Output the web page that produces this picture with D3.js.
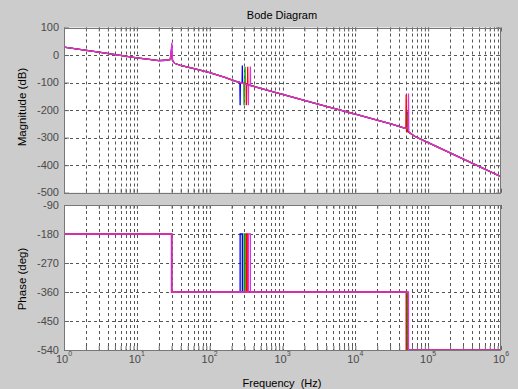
<!DOCTYPE html>
<html>
<head>
<meta charset="utf-8">
<script src="https://cdn.jsdelivr.net/npm/d3@7"></script>
<style>
  body { margin: 0; background: #cccccc; }
  svg { display: block; font-family: Arial, 'Liberation Sans', sans-serif; }
</style>
</head>
<body>
<div id="chart"></div>
<script>
// Shared parts of the magnitude curve (Hz, dB)
const magLow = [[1, 29], [3.16, 10], [10, -10], [15.8, -17], [20, -20], [25.1, -19], [28.8, -16]]
const magMid = [[30.9, -20], [33.1, -30], [39.8, -38], [63.1, -50], [100, -64], [158, -80], [224, -95]]
const magHigh = [[501, -121], [1000, -143], [3162, -179], [10000, -215], [31623, -251], [48500, -266]]
const magTop = [[56234, -283], [66069, -296], [100000, -318], [316228, -380], [1000000, -442]]

// Resonances of each run
const seriesNames = ['blue', 'green', 'red', 'magenta']
const seriesColors = ['#0000ff', '#00a000', '#ff0000', '#dd33dd']
const peak30 = [[29.9, 22], [30.1, 15], [30.1, 18], [30.3, 45]]
const notchPeak300 = [
  [[260, -100], [262, -182], [264, -100], [279, -102], [281, -38], [283, -102]],
  [[295, -104], [297, -182], [299, -104], [304, -105], [306, -43], [308, -105]],
  [[317, -106], [319, -182], [321, -106], [331, -108], [333, -43], [335, -108]],
  [[338, -109], [340, -182], [342, -109], [360, -111], [362, -42], [364, -111]]
]
const peak50k = [
  [[51000, -264], [51500, -205], [52000, -276]],
  [[51600, -264], [52100, -215], [52600, -276]],
  [[49400, -264], [49900, -143], [50400, -276]],
  [[53200, -264], [53700, -140], [54200, -276]]
]

// Phase steps of each run (Hz, deg)
const phaseSteps = [
  [[1, -180], [29.9, -180], [29.9, -360], [262, -360], [262, -180], [281, -180], [281, -360], [51500, -360], [51500, -540], [1000000, -540]],
  [[1, -180], [30.1, -180], [30.1, -360], [297, -360], [297, -180], [306, -180], [306, -360], [52100, -360], [52100, -540], [1000000, -540]],
  [[1, -180], [30.1, -180], [30.1, -360], [319, -360], [319, -180], [333, -180], [333, -360], [49900, -360], [49900, -540], [1000000, -540]],
  [[1, -180], [30.3, -180], [30.3, -360], [340, -360], [340, -180], [362, -180], [362, -360], [53700, -360], [53700, -540], [1000000, -540]]
]

const magTicks = [100, 0, -100, -200, -300, -400, -500]
const phaseTicks = [-90, -180, -270, -360, -450, -540]
const decades = [0, 1, 2, 3, 4, 5, 6]

const W = 518
const H = 389
const left = 64
const right = 501
const magTop0 = 27.5
const magBottom = 192.7
const phTop = 205
const phBottom = 350

const svg = d3.select('#chart').append('svg')
  .attr('width', W)
  .attr('height', H)

svg.append('rect').attr('width', W).attr('height', H).attr('fill', '#cccccc')

const x = d3.scaleLog().domain([1, 1e6]).range([left, right])
const yMag = d3.scaleLinear().domain([-500, 100]).range([magBottom, magTop0])
const yPh = d3.scaleLinear().domain([-540, -90]).range([phBottom, phTop])

// minor + major frequencies for grid
const gridFreqs = []
for (let e = 0; e < 6; e++) {
  for (let m = 1; m < 10; m++) gridFreqs.push(m * Math.pow(10, e))
}
gridFreqs.push(1e6)

function panel (y, ticks, top, bottom) {
  const g = svg.append('g')
  g.append('rect')
    .attr('x', left).attr('y', top)
    .attr('width', right - left).attr('height', bottom - top)
    .attr('fill', '#ffffff')

  // vertical grid
  g.selectAll('.vg').data(gridFreqs.filter(f => f > 1 && f < 1e6)).enter()
    .append('line')
    .attr('x1', d => Math.round(x(d)) + 0.5).attr('x2', d => Math.round(x(d)) + 0.5)
    .attr('y1', top).attr('y2', bottom)
    .attr('stroke', '#555').attr('stroke-width', 1)
    .attr('stroke-dasharray', '3,3')

  // horizontal grid
  g.selectAll('.hg').data(ticks.slice(1, -1)).enter()
    .append('line')
    .attr('x1', left).attr('x2', right)
    .attr('y1', d => Math.round(y(d)) + 0.5).attr('y2', d => Math.round(y(d)) + 0.5)
    .attr('stroke', '#555').attr('stroke-width', 1)
    .attr('stroke-dasharray', '3,3')

  // x ticks (inward, top and bottom)
  const xb = d3.axisTop(x).tickValues(gridFreqs).tickSize(4).tickFormat('')
  g.append('g').attr('transform', `translate(0,${bottom})`).call(xb)
  const xt = d3.axisBottom(x).tickValues(gridFreqs).tickSize(4).tickFormat('')
  g.append('g').attr('transform', `translate(0,${top})`).call(xt)

  // y ticks (inward, left and right)
  const yl = d3.axisRight(y).tickValues(ticks).tickSize(5).tickFormat('')
  g.append('g').attr('transform', `translate(${left},0)`).call(yl)
  const yr = d3.axisLeft(y).tickValues(ticks).tickSize(5).tickFormat('')
  g.append('g').attr('transform', `translate(${right},0)`).call(yr)

  g.selectAll('.domain').remove()
  g.selectAll('.tick line').attr('stroke', '#666')

  // y tick labels
  g.selectAll('.yl').data(ticks).enter()
    .append('text')
    .attr('x', left - 5)
    .attr('y', d => y(d) + 3.5)
    .attr('text-anchor', 'end')
    .attr('font-size', 11)
    .attr('fill', '#4a4a4a')
    .text(d => d)

  return g
}

panel(yMag, magTicks, magTop0, magBottom)
panel(yPh, phaseTicks, phTop, phBottom)

// curves
const magLine = d3.line().x(d => x(d[0])).y(d => yMag(d[1]))
const phLine = d3.line().x(d => x(d[0])).y(d => yPh(d[1]))

const clipMag = svg.append('clipPath').attr('id', 'cm')
clipMag.append('rect').attr('x', left).attr('y', magTop0).attr('width', right - left).attr('height', magBottom - magTop0)
const clipPh = svg.append('clipPath').attr('id', 'cp')
clipPh.append('rect').attr('x', left).attr('y', phTop - 1).attr('width', right - left).attr('height', phBottom - phTop + 1)

seriesNames.forEach((name, i) => {
  const pts = [].concat(magLow, [peak30[i]], magMid, notchPeak300[i], magHigh, peak50k[i], magTop)
  svg.append('path')
    .datum(pts)
    .attr('clip-path', 'url(#cm)')
    .attr('fill', 'none')
    .attr('stroke', seriesColors[i])
    .attr('stroke-width', 1.3)
    .attr('d', magLine)

  svg.append('path')
    .datum(phaseSteps[i])
    .attr('clip-path', 'url(#cp)')
    .attr('fill', 'none')
    .attr('stroke', seriesColors[i])
    .attr('stroke-width', 1.3)
    .attr('d', phLine)
})

// frames
;[[magTop0, magBottom], [phTop, phBottom]].forEach(([t, b]) => {
  svg.append('rect')
    .attr('x', left + 0.5).attr('y', Math.round(t) + 0.5)
    .attr('width', right - left - 1).attr('height', Math.round(b) - Math.round(t))
    .attr('fill', 'none')
    .attr('stroke', '#777')
    .attr('stroke-width', 1)
})

// x tick labels 10^n
const xl = svg.append('g')
decades.forEach(e => {
  const t = xl.append('text')
    .attr('x', x(Math.pow(10, e)))
    .attr('y', 363)
    .attr('text-anchor', 'middle')
    .attr('font-size', 11)
    .attr('fill', '#4a4a4a')
  t.append('tspan').text('10')
  t.append('tspan').attr('font-size', 7).attr('dy', -7).text(e)
})

svg.append('text')
  .attr('x', 282).attr('y', 19)
  .attr('text-anchor', 'middle')
  .attr('font-size', 11)
  .attr('fill', '#000')
  .text('Bode Diagram')

svg.append('text')
  .attr('x', 282).attr('y', 387)
  .attr('text-anchor', 'middle')
  .attr('font-size', 11)
  .attr('fill', '#000')
  .attr('xml:space', 'preserve')
  .style('white-space', 'pre')
  .text('Frequency  (Hz)')

svg.append('text')
  .attr('transform', 'translate(26,107) rotate(-90)')
  .attr('text-anchor', 'middle')
  .attr('font-size', 11.5)
  .attr('fill', '#000')
  .text('Magnitude (dB)')

svg.append('text')
  .attr('transform', 'translate(26,279) rotate(-90)')
  .attr('text-anchor', 'middle')
  .attr('font-size', 11.5)
  .attr('fill', '#000')
  .text('Phase (deg)')
</script>
</body>
</html>
